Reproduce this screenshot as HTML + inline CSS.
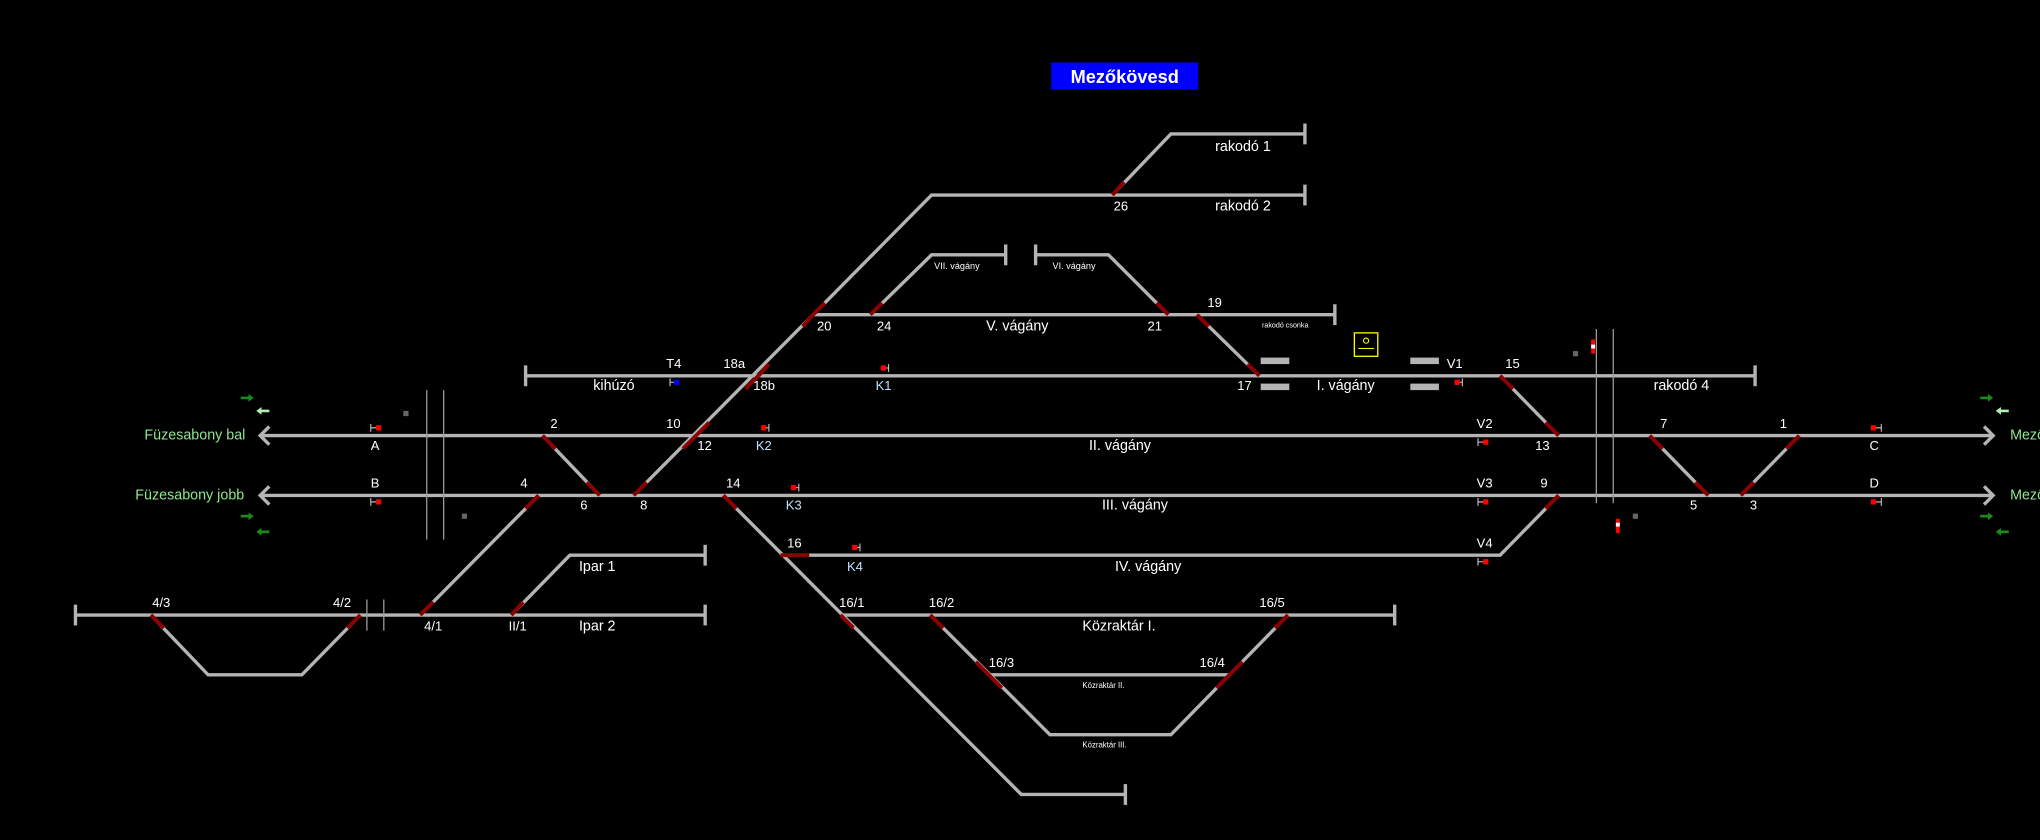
<!DOCTYPE html>
<html><head><meta charset="utf-8"><style>
html,body{margin:0;padding:0;background:#000;width:2040px;height:840px;overflow:hidden}
svg{display:block}
text{font-family:"Liberation Sans",sans-serif;fill:#fff;font-size:10px}
.g{stroke:#b4b4b4;stroke-width:2.6;fill:none}
.r{stroke:#8b0000;stroke-width:3;fill:none}
.v{stroke:#9a9a9a;stroke-width:1;fill:none}
.t{font-size:11px}
.b{fill:#bfe0ff}
.gr{fill:#8fe88f}
</style></head><body>
<svg width="2040" height="840" viewBox="0 0 1568 646" preserveAspectRatio="none">
<rect width="1568" height="646" fill="#000"/>
<rect x="808" y="48" width="113" height="21" fill="#0000ff"/>
<text x="864.5" y="64" text-anchor="middle" style="font-size:14px;font-weight:bold" fill="#fff">Mezőkövesd</text>

<!-- main tracks -->
<g class="g">
<line x1="200" y1="335" x2="1532" y2="335"/>
<line x1="200" y1="381" x2="1532" y2="381"/>
<polyline points="207,328 200,335 207,342"/>
<polyline points="207,374 200,381 207,388"/>
<polyline points="1525,328 1532,335 1525,342"/>
<polyline points="1525,374 1532,381 1525,388"/>
<line x1="404" y1="289" x2="1349" y2="289"/>
<line x1="404" y1="281" x2="404" y2="297"/>
<line x1="1349" y1="281" x2="1349" y2="297"/>
<line x1="625" y1="242" x2="1026" y2="242"/>
<line x1="1026" y1="234" x2="1026" y2="250"/>
<polyline points="487,381 625,242 716,150 1003,150"/>
<line x1="1003" y1="142" x2="1003" y2="158"/>
<polyline points="855,150 900,103 1003,103"/>
<line x1="1003" y1="95" x2="1003" y2="111"/>
<polyline points="669,242 716,196 773,196"/>
<line x1="773" y1="188" x2="773" y2="204"/>
<polyline points="796,196 852,196 898,242"/>
<line x1="796" y1="188" x2="796" y2="204"/>
<line x1="920" y1="242" x2="968" y2="289"/>
<line x1="417" y1="335" x2="461" y2="381"/>
<line x1="414" y1="381" x2="323" y2="473"/>
<line x1="58" y1="473" x2="542" y2="473"/>
<line x1="58" y1="465" x2="58" y2="481"/>
<line x1="542" y1="465" x2="542" y2="481"/>
<polyline points="116,473 160,519 232,519 277,473"/>
<polyline points="393,473 438,427 542,427"/>
<line x1="542" y1="419" x2="542" y2="435"/>
<polyline points="556,381 785,611 865,611"/>
<line x1="865" y1="603" x2="865" y2="619"/>
<polyline points="600,427 1153,427 1198,381"/>
<line x1="646" y1="473" x2="1072" y2="473"/>
<line x1="1072" y1="465" x2="1072" y2="481"/>
<polyline points="715,473 807,565 900,565 990,473"/>
<line x1="760" y1="519" x2="945" y2="519"/>
<line x1="1153" y1="289" x2="1198" y2="335"/>
<line x1="1268" y1="335" x2="1313" y2="381"/>
<line x1="1383" y1="335" x2="1338" y2="381"/>
</g>
<!-- red switch ends -->
<g class="r">
<line x1="417" y1="335" x2="427" y2="345"/><line x1="461" y1="381" x2="451" y2="371"/>
<line x1="487" y1="381" x2="497" y2="371"/><line x1="535" y1="335" x2="525" y2="345"/>
<line x1="535" y1="335" x2="545" y2="325"/><line x1="583" y1="289" x2="573" y2="299"/>
<line x1="583" y1="289" x2="591" y2="280"/><line x1="625" y1="242" x2="617" y2="251"/>
<line x1="625" y1="242" x2="634" y2="233"/>
<line x1="669" y1="242" x2="678" y2="233"/>
<line x1="898" y1="242" x2="889" y2="233"/>
<line x1="855" y1="150" x2="864" y2="140"/>
<line x1="920" y1="242" x2="929" y2="251"/><line x1="968" y1="289" x2="959" y2="280"/>
<line x1="414" y1="381" x2="404" y2="391"/><line x1="323" y1="473" x2="333" y2="463"/>
<line x1="393" y1="473" x2="402" y2="463"/>
<line x1="116" y1="473" x2="126" y2="483"/><line x1="277" y1="473" x2="267" y2="483"/>
<line x1="556" y1="381" x2="566" y2="391"/><line x1="600" y1="427" x2="622" y2="427"/>
<line x1="646" y1="473" x2="656" y2="483"/>
<line x1="715" y1="473" x2="725" y2="483"/><line x1="760" y1="519" x2="750" y2="509"/>
<line x1="760" y1="519" x2="770" y2="529"/>
<line x1="990" y1="473" x2="980" y2="483"/><line x1="945" y1="519" x2="955" y2="509"/>
<line x1="945" y1="519" x2="935" y2="529"/>
<line x1="1153" y1="289" x2="1163" y2="299"/><line x1="1198" y1="335" x2="1188" y2="325"/>
<line x1="1198" y1="381" x2="1188" y2="391"/>
<line x1="1268" y1="335" x2="1278" y2="345"/><line x1="1313" y1="381" x2="1303" y2="371"/>
<line x1="1383" y1="335" x2="1373" y2="345"/><line x1="1338" y1="381" x2="1348" y2="371"/>
</g>
<!-- vertical boundary lines -->
<g class="v">
<line x1="328" y1="300" x2="328" y2="415"/><line x1="341" y1="300" x2="341" y2="415"/>
<line x1="1227" y1="253" x2="1227" y2="387"/><line x1="1240" y1="253" x2="1240" y2="387"/>
<line x1="282" y1="461" x2="282" y2="485"/><line x1="295" y1="461" x2="295" y2="485"/>
</g>
<!-- platforms & misc -->
<g fill="#b4b4b4">
<rect x="969" y="275" width="22" height="5"/><rect x="969" y="295" width="22" height="5"/>
<rect x="1084" y="275" width="22" height="5"/><rect x="1084" y="295" width="22" height="5"/>
</g>
<rect x="1041" y="256" width="18" height="18" fill="none" stroke="#ff0" stroke-width="1"/>
<circle cx="1050" cy="262" r="2" fill="none" stroke="#ff0" stroke-width="0.8"/>
<line x1="1044" y1="268" x2="1056" y2="268" stroke="#ff0" stroke-width="0.8"/>
<g fill="#666"><rect x="310" y="316" width="4" height="4"/><rect x="355" y="395" width="4" height="4"/><rect x="1209" y="270" width="4" height="4"/><rect x="1255" y="395" width="4" height="4"/></g>
<rect x="1223" y="261" width="3" height="11" fill="#f00"/><rect x="1223" y="265" width="3" height="3" fill="#fff"/>
<rect x="1242" y="399" width="3" height="11" fill="#f00"/><rect x="1242" y="402" width="3" height="3" fill="#fff"/>
<!-- green arrows -->
<g>
<polygon points="185,305 191,305 191,303 195,306 191,309 191,307 185,307" fill="#1a8a1a"/>
<polygon points="207,315 201,315 201,313 197,316 201,319 201,317 207,317" fill="#b0f0b0"/>
<polygon points="185,396 191,396 191,394 195,397 191,400 191,398 185,398" fill="#1a8a1a"/>
<polygon points="207,408 201,408 201,406 197,409 201,412 201,410 207,410" fill="#1a8a1a"/>
<polygon points="1522,305 1528,305 1528,303 1532,306 1528,309 1528,307 1522,307" fill="#1a8a1a"/>
<polygon points="1544,315 1538,315 1538,313 1534,316 1538,319 1538,317 1544,317" fill="#b0f0b0"/>
<polygon points="1522,396 1528,396 1528,394 1532,397 1528,400 1528,398 1522,398" fill="#1a8a1a"/>
<polygon points="1544,408 1538,408 1538,406 1534,409 1538,412 1538,410 1544,410" fill="#1a8a1a"/>
</g>
<!-- signals -->
<g fill="#f00">
<rect x="289" y="327" width="4" height="4"/><rect x="289" y="384" width="4" height="4"/>
<rect x="585" y="327" width="4" height="4"/><rect x="608" y="373" width="4" height="4"/>
<rect x="655" y="419" width="4" height="4"/><rect x="677" y="281" width="4" height="4"/>
<rect x="1118" y="292" width="4" height="4"/><rect x="1140" y="338" width="4" height="4"/>
<rect x="1140" y="384" width="4" height="4"/><rect x="1140" y="430" width="4" height="4"/>
<rect x="1438" y="327" width="4" height="4"/><rect x="1438" y="384" width="4" height="4"/>
</g>
<rect x="518" y="292" width="4" height="4" fill="#00f"/>
<g stroke="#ccc" stroke-width="0.8">
<path d="M285,326v6M285,329h4M285,383v6M285,386h4M591,326v6M589,329h2M614,372v6M612,375h2M661,418v6M659,421h2M683,280v6M681,283h2M1124,291v6M1122,294h2M1136,337v6M1136,340h4M1136,383v6M1136,386h4M1136,429v6M1136,432h4M1446,326v6M1442,329h4M1446,383v6M1442,386h4M515,291v6M515,294h3"/>
</g>
<!-- labels -->
<text x="111" y="338" class="t gr">Füzesabony bal</text>
<text x="104" y="384" class="t gr">Füzesabony jobb</text>
<text x="1545" y="338" class="t gr">Mezőkövesd</text>
<text x="1545" y="384" class="t gr">Mezőkövesd</text>
<text x="934" y="116" class="t">rakodó 1</text>
<text x="934" y="162" class="t">rakodó 2</text>
<text x="718" y="207" style="font-size:7px">VII. vágány</text>
<text x="809" y="207" style="font-size:7px">VI. vágány</text>
<text x="970" y="252" style="font-size:5.5px">rakodó csonka</text>
<text x="758" y="254" class="t">V. vágány</text>
<text x="1012" y="300" class="t">I. vágány</text>
<text x="837" y="346" class="t">II. vágány</text>
<text x="847" y="392" class="t">III. vágány</text>
<text x="857" y="439" class="t">IV. vágány</text>
<text x="832" y="485" class="t">Közraktár I.</text>
<text x="832" y="529" style="font-size:6px">Közraktár II.</text>
<text x="832" y="575" style="font-size:6px">Közraktár III.</text>
<text x="1271" y="300" class="t">rakodó 4</text>
<text x="456" y="300" class="t">kihúzó</text>
<text x="445" y="439" class="t">Ipar 1</text>
<text x="445" y="485" class="t">Ipar 2</text>
<text x="856" y="162">26</text><text x="628" y="254">20</text><text x="674" y="254">24</text>
<text x="882" y="254">21</text><text x="928" y="236">19</text><text x="951" y="300">17</text>
<text x="556" y="283">18a</text><text x="579" y="300">18b</text><text x="512" y="283">T4</text>
<text x="423" y="329">2</text><text x="512" y="329">10</text><text x="536" y="346">12</text>
<text x="400" y="375">4</text><text x="446" y="392">6</text><text x="492" y="392">8</text>
<text x="558" y="375">14</text><text x="605" y="421">16</text>
<text x="117" y="467">4/3</text><text x="256" y="467">4/2</text>
<text x="326" y="485">4/1</text><text x="391" y="485">II/1</text>
<text x="645" y="467">16/1</text><text x="714" y="467">16/2</text><text x="968" y="467">16/5</text>
<text x="760" y="513">16/3</text><text x="922" y="513">16/4</text>
<text x="1157" y="283">15</text><text x="1180" y="346">13</text><text x="1184" y="375">9</text>
<text x="1276" y="329">7</text><text x="1368" y="329">1</text>
<text x="1299" y="392">5</text><text x="1345" y="392">3</text>
<text x="285" y="346">A</text><text x="285" y="375">B</text>
<text x="1437" y="346">C</text><text x="1437" y="375">D</text>
<text x="1112" y="283">V1</text><text x="1135" y="329">V2</text><text x="1135" y="375">V3</text><text x="1135" y="421">V4</text>
<text x="673" y="300" class="b">K1</text><text x="581" y="346" class="b">K2</text>
<text x="604" y="392" class="b">K3</text><text x="651" y="439" class="b">K4</text>
</svg>
</body></html>
